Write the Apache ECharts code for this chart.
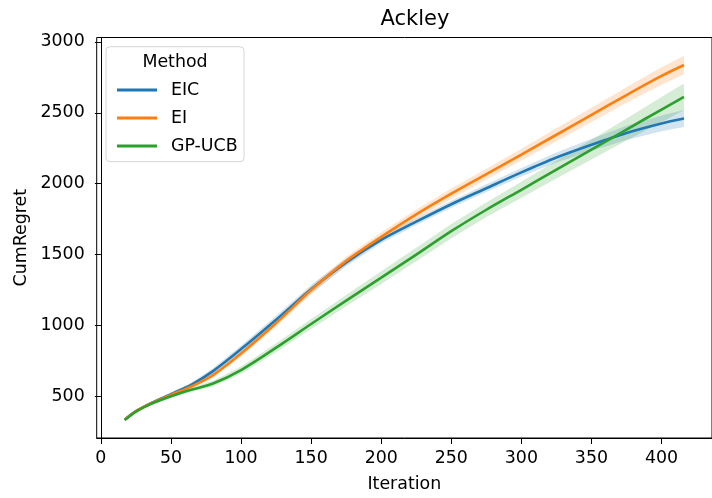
<!DOCTYPE html>
<html>
<head>
<meta charset="utf-8">
<script src="https://cdn.jsdelivr.net/npm/echarts@6/dist/echarts.min.js"></script>
<style>
  html, body { margin: 0; padding: 0; background: #fff; }
  #chart { width: 712px; height: 498px; }
</style>
</head>
<body>
<div id="chart"></div>
<script>
// iteration points
const iters = [17, 25, 35, 50, 65, 80, 100, 125, 150, 175, 200, 225, 250, 275, 300, 325, 350, 375, 400, 416];

// mean cumulative regret per method
const eic = [335, 395, 448, 515, 585, 678, 833, 1040, 1255, 1445, 1604, 1732, 1855, 1968, 2080, 2185, 2275, 2358, 2425, 2459];
const ei = [335, 395, 446, 510, 572, 650, 802, 1017, 1250, 1455, 1625, 1784, 1930, 2068, 2205, 2345, 2485, 2625, 2760, 2837];
const gpucb = [333, 392, 443, 500, 548, 590, 685, 843, 1010, 1175, 1337, 1500, 1665, 1816, 1957, 2099, 2240, 2382, 2523, 2612];

// half width of the shaded band
const eicBand = [8, 9, 10, 12, 15, 20, 25, 28, 30, 28, 25, 24, 25, 27, 30, 35, 42, 50, 56, 60];
const eiBand = [8, 9, 10, 12, 14, 18, 22, 26, 28, 30, 32, 34, 36, 38, 42, 46, 50, 55, 62, 66];
const gpBand = [8, 9, 10, 12, 15, 20, 25, 32, 36, 40, 45, 48, 50, 52, 56, 62, 70, 78, 88, 95];

const xTicks = [0, 50, 100, 150, 200, 250, 300, 350, 400];
const yTicks = [500, 1000, 1500, 2000, 2500, 3000];

const methods = [
  { name: "EIC", mean: eic, band: eicBand, color: "#1f77b4" },
  { name: "EI", mean: ei, band: eiBand, color: "#ff7f0e" },
  { name: "GP-UCB", mean: gpucb, band: gpBand, color: "#2ca02c" },
];

const FONT = "DejaVu Sans";

function pairs(xs, ys) {
  return xs.map((x, i) => [x, ys[i]]);
}

// the band is one polygon (upper edge, then lower edge back), drawn once
function bandRenderer(m) {
  return function (params, api) {
    if (params.dataIndex !== 0) return null;
    const upper = iters.map((x, i) => api.coord([x, m.mean[i] + m.band[i]]));
    const lower = iters.map((x, i) => api.coord([x, m.mean[i] - m.band[i]])).reverse();
    return {
      type: "polygon",
      shape: { points: upper.concat(lower) },
      style: { fill: m.color, opacity: 0.2 },
    };
  };
}

const series = [];
methods.forEach((m) => {
  series.push({
    name: m.name + " band",
    type: "custom",
    data: pairs(iters, m.mean),
    renderItem: bandRenderer(m),
    silent: true,
    z: 1,
  });
  series.push({
    name: m.name,
    type: "line",
    data: pairs(iters, m.mean),
    symbol: "none",
    smooth: 0.3,
    color: m.color,
    lineStyle: { color: m.color, width: 2.6 },
    z: 2,
  });
});

const chart = echarts.init(document.getElementById("chart"), null, { renderer: "canvas" });

chart.setOption({
  animation: false,
  backgroundColor: "#fff",
  title: {
    text: "Ackley",
    left: 410,
    top: 4,
    textAlign: "center",
    textStyle: { fontFamily: FONT, fontSize: 21, fontWeight: "normal", color: "#000" },
  },
  grid: {
    left: 96.7,
    top: 37.5,
    width: 626,
    height: 405.8,
    show: true,
    borderColor: "#000",
    borderWidth: 1,
    backgroundColor: "transparent",
  },
  xAxis: {
    type: "value",
    min: -3,
    max: 436,
    name: "Iteration",
    nameLocation: "middle",
    nameGap: 38,
    nameTextStyle: { fontFamily: FONT, fontSize: 17.4, color: "#000" },
    axisLine: { show: true, lineStyle: { color: "#000", width: 1 } },
    axisTick: { show: true, length: 6, customValues: xTicks, lineStyle: { color: "#000" } },
    axisLabel: {
      customValues: xTicks,
      margin: 12,
      formatter: (v) => String(v),
      fontFamily: FONT,
      fontSize: 17.4,
      color: "#000",
    },
    splitLine: { show: false },
  },
  yAxis: {
    type: "value",
    min: 206,
    max: 3031,
    name: "CumRegret",
    nameLocation: "middle",
    nameGap: 60,
    nameTextStyle: { fontFamily: FONT, fontSize: 17.4, color: "#000" },
    axisLine: { show: true, lineStyle: { color: "#000", width: 1 } },
    axisTick: { show: true, length: 6, customValues: yTicks, lineStyle: { color: "#000" } },
    axisLabel: {
      customValues: yTicks,
      margin: 12,
      formatter: (v) => String(v),
      fontFamily: FONT,
      fontSize: 17.4,
      color: "#000",
    },
    splitLine: { show: false },
  },
  legend: {
    data: methods.map((m) => m.name),
    orient: "vertical",
    left: 112,
    top: 75,
    icon: "rect",
    itemWidth: 40,
    itemHeight: 3,
    itemGap: 8,
    selectedMode: false,
    textStyle: {
      fontFamily: FONT,
      fontSize: 17.4,
      color: "#000",
      lineHeight: 20,
      padding: [0, 0, 0, 9],
    },
  },
  graphic: [
    {
      type: "rect",
      z: 3,
      shape: { x: 106, y: 46.7, width: 138, height: 115, r: 4 },
      style: { fill: "rgba(255,255,255,0.8)", stroke: "#d6d6d6", lineWidth: 1 },
    },
    {
      type: "text",
      z: 4,
      x: 175,
      y: 62,
      style: {
        text: "Method",
        fontFamily: FONT,
        fontSize: 17.4,
        fill: "#000",
        align: "center",
        verticalAlign: "middle",
      },
    },
  ],
  series: series,
});

window.addEventListener("resize", function () {
  chart.resize();
});
</script>
</body>
</html>
